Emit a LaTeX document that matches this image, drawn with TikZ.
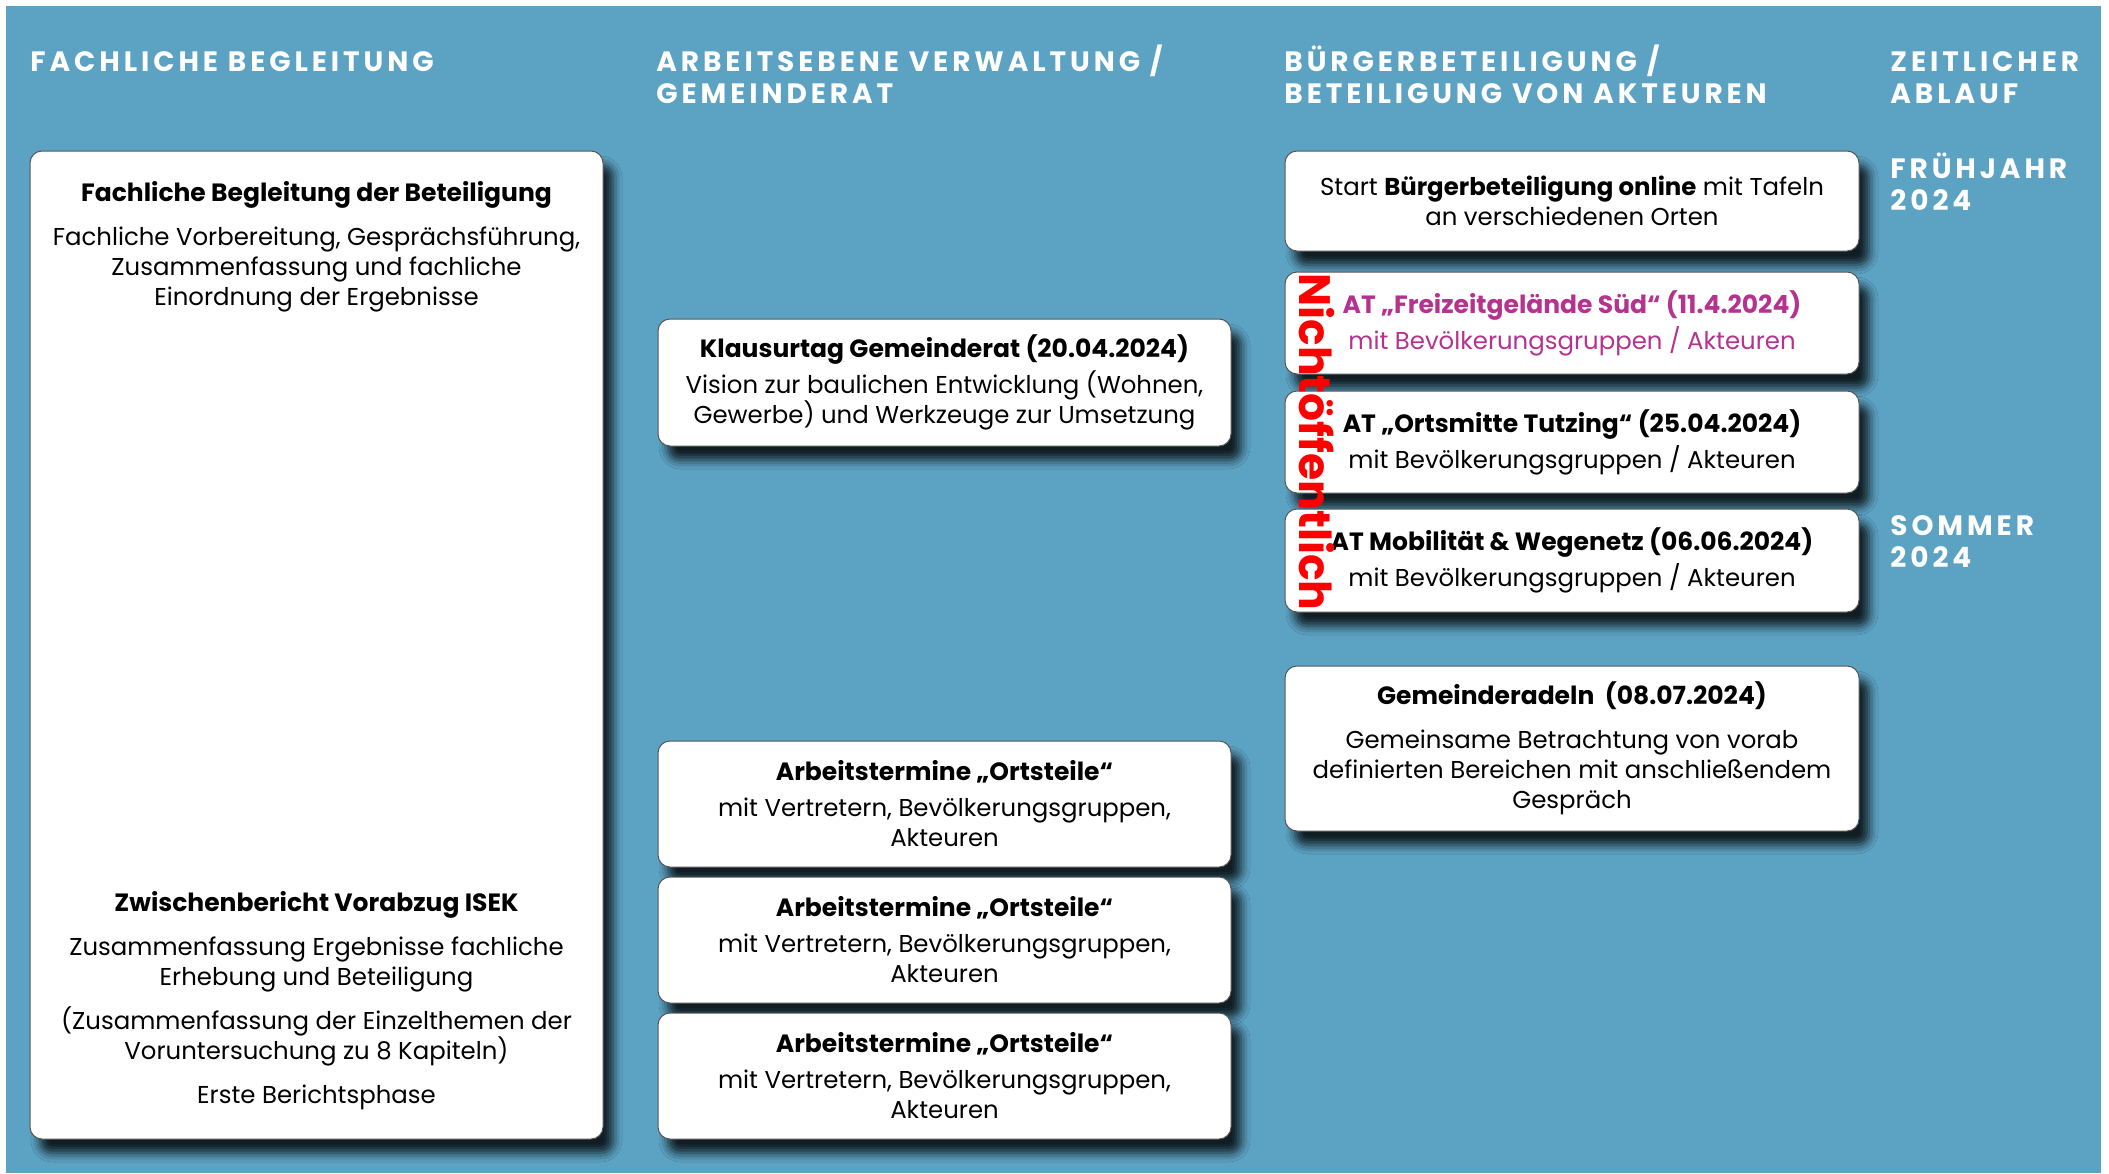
\documentclass[tikz,border=0pt]{standalone}
\usepackage{fontspec}
\setmainfont{Poppins}
\newfontfamily\headfont[LetterSpace=14]{Poppins}
\usepackage{tikz}
\usetikzlibrary{positioning,shadows.blur}
\definecolor{panelblue}{RGB}{92,162,195}
\definecolor{atpink}{RGB}{181,51,143}
\definecolor{framegray}{RGB}{85,85,85}
\newcommand{\ctitle}[1]{{\fontsize{12.5}{15}\selectfont\bfseries #1}}

\begin{document}
\begin{tikzpicture}[x=0.5pt,y=-0.5pt]
    \tikzstyle{card}=[draw=framegray, line width=0.5pt, fill=white, rounded corners=6pt,
        blur shadow={shadow xshift=5pt, shadow yshift=-7pt, shadow blur radius=4.5pt, shadow opacity=82},
        inner sep=0pt, align=center, font=\fontsize{12.2}{15}\selectfont]
    \tikzstyle{head}=[text=white, anchor=north west, inner sep=0pt, align=left,
        font=\headfont\bfseries\fontsize{14}{16}\selectfont]
    \tikzstyle{cardtext}=[inner sep=0pt, align=center, font=\fontsize{12.2}{15}\selectfont]

    % Background
    \useasboundingbox (0,0) rectangle (2109,1173);
    \fill[white] (0,0) rectangle (2109,1173);
    \fill[panelblue] (6,6) rectangle (2101,1173);

    % Column headers
    \node (hfach)[head] at (30,51) {FACHLICHE BEGLEITUNG};
    \node (hverw)[head] at (656,44) {ARBEITSEBENE VERWALTUNG /\\GEMEINDERAT};
    \node (hbuerger)[head] at (1284,44) {BÜRGERBETEILIGUNG /\\BETEILIGUNG VON AKTEUREN};
    \node (hzeit)[head] at (1890,51) {ZEITLICHER\\ABLAUF};

    % Time marks
    \node (fruehjahr)[head] at (1890,153) {FRÜHJAHR\\2024};
    \node (sommer)[head] at (1890,515) {SOMMER\\2024};

    % Left column
    \node (fach)[card, minimum width=286.5pt, minimum height=494pt] at (316.5,645) {};
    \node (fachtop)[cardtext, below=15.5pt of fach.north]
        {\ctitle{Fachliche Begleitung der Beteiligung}\\[7pt]
         Fachliche Vorbereitung, Gesprächsführung,\\
         Zusammenfassung und fachliche\\
         Einordnung der Ergebnisse};
    \node (fachbot)[cardtext, above=14.5pt of fach.south]
        {\ctitle{Zwischenbericht Vorabzug ISEK}\\[7pt]
         Zusammenfassung Ergebnisse fachliche\\
         Erhebung und Beteiligung\\[7pt]
         (Zusammenfassung der Einzelthemen der\\
         Voruntersuchung zu 8 Kapiteln)\\[7pt]
         Erste Berichtsphase};

    % Middle column
    \node (klausur)[card, minimum width=286.5pt, minimum height=63.5pt] at (944.5,382.5)
        {\ctitle{Klausurtag Gemeinderat (20.04.2024)}\\[3pt]
         Vision zur baulichen Entwicklung (Wohnen,\\
         Gewerbe) und Werkzeuge zur Umsetzung};
    \foreach \name/\y in {ortA/804, ortB/940, ortC/1076}{
        \node (\name)[card, minimum width=286.5pt, minimum height=63pt] at (944.5,\y)
            {\ctitle{Arbeitstermine „Ortsteile“}\\[3pt]
             mit Vertretern, Bevölkerungsgruppen,\\
             Akteuren};
    }

    % Right column
    \node (start)[card, minimum width=287pt, minimum height=50pt] at (1572,201)
        {Start \textbf{Bürgerbeteiligung online} mit Tafeln\\
         an verschiedenen Orten};
    \node (freizeit)[card, minimum width=287pt, minimum height=51pt, text=atpink] at (1572,323)
        {\ctitle{AT „Freizeitgelände Süd“ (11.4.2024)}\\[3pt]
         mit Bevölkerungsgruppen / Akteuren};
    \node (ortsmitte)[card, minimum width=287pt, minimum height=51pt] at (1572,442)
        {\ctitle{AT „Ortsmitte Tutzing“ (25.04.2024)}\\[3pt]
         mit Bevölkerungsgruppen / Akteuren};
    \node (mobil)[card, minimum width=287pt, minimum height=51.5pt] at (1572,560.5)
        {\ctitle{AT Mobilität \& Wegenetz (06.06.2024)}\\[3pt]
         mit Bevölkerungsgruppen / Akteuren};
    \node (radeln)[card, minimum width=287pt, minimum height=82.5pt] at (1572,748.5)
        {\ctitle{Gemeinderadeln\ \ (08.07.2024)}\\[7pt]
         Gemeinsame Betrachtung von vorab\\
         definierten Bereichen mit anschließendem\\
         Gespräch};

    % Not public
    \node (nicht)[rotate=-90, text=red, inner sep=0pt,
        font=\fontsize{22}{22}\selectfont\bfseries] at (1317,442) {Nichtöffentlich};
\end{tikzpicture}
\end{document}
